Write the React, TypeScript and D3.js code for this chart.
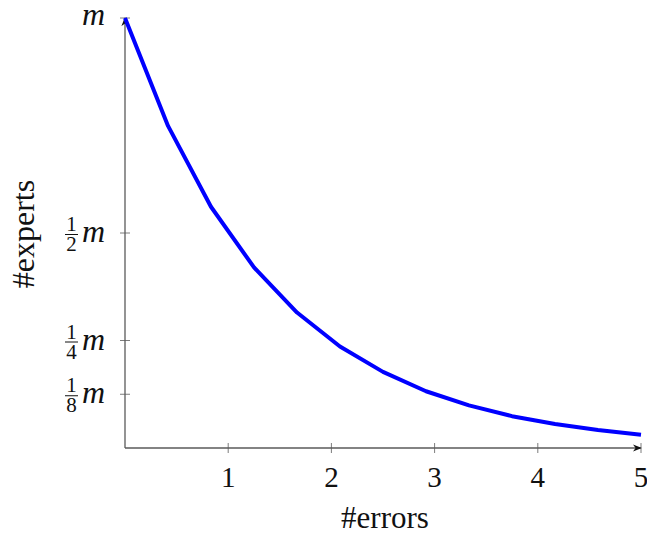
import React from "react";
import * as d3 from "d3";

// errors made vs. experts still alive (fraction of m)
const errorsX = [0, 0.417, 0.833, 1.25, 1.667, 2.083, 2.5, 2.917, 3.333, 3.75, 4.167, 4.583, 5];
const expertsY = [1, 0.749, 0.561, 0.42, 0.315, 0.236, 0.177, 0.132, 0.099, 0.074, 0.056, 0.042, 0.031];
const xTicks = [1, 2, 3, 4, 5];
const yTickVals = [1, 0.5, 0.25, 0.125];
const yTickDen = [0, 2, 4, 8];

const width = 647, height = 533;
const serif = "Liberation Serif";
const axisCol = "#5a5a5a";

const App = () => {
  const x = d3.scaleLinear().domain([0, 5]).range([125, 641]);
  const y = d3.scaleLinear().domain([0, 1]).range([448, 18]);
  const pts = errorsX.map((v, i) => [v, expertsY[i]] as [number, number]);
  const line = d3.line<[number, number]>().x(d => x(d[0])).y(d => y(d[1]));

  return (
    <svg width={width} height={height} style={{ position: "absolute", left: 0, top: 0 }}>
      <defs>
        <marker id="arr" viewBox="0 0 10 10" refX={9} refY={5} markerWidth={9} markerHeight={9}
          markerUnits="userSpaceOnUse" orient="auto">
          <path d="M0,1 L10,5 L0,9 L3,5 Z" fill="#111" />
        </marker>
      </defs>

      {/* axes */}
      <line x1={x(0)} x2={x(5)} y1={y(0)} y2={y(0)} stroke={axisCol} strokeWidth={1.3} markerEnd="url(#arr)" />
      <line x1={x(0)} x2={x(0)} y1={y(0)} y2={y(1)} stroke={axisCol} strokeWidth={1.3} markerEnd="url(#arr)" />

      {xTicks.map(t => (
        <g key={t}>
          <line x1={x(t)} x2={x(t)} y1={y(0) - 5} y2={y(0) + 5} stroke={axisCol} strokeWidth={0.8} />
          <text x={x(t)} y={y(0) + 39} textAnchor="middle" fontFamily={serif} fontSize={29} fill="#111">{t}</text>
        </g>
      ))}

      {yTickVals.map((t, i) => (
        <g key={t}>
          <line x1={x(0) - 5} x2={x(0) + 5} y1={y(t)} y2={y(t)} stroke={axisCol} strokeWidth={0.8} />
          <text x={x(0) - 20} y={y(t) + (yTickDen[i] ? 9 : 7)} textAnchor="end" fontFamily={serif}
            fontStyle="italic" fontSize={32} fill="#111">m</text>
          {yTickDen[i] > 0 && (
            <>
              <text x={x(0) - 53.5} y={y(t) - 2} textAnchor="middle" fontFamily={serif} fontSize={21} fill="#111">1</text>
              <line x1={x(0) - 60} x2={x(0) - 47} y1={y(t) + 1.5} y2={y(t) + 1.5} stroke="#111" strokeWidth={1} />
              <text x={x(0) - 53.5} y={y(t) + 18} textAnchor="middle" fontFamily={serif} fontSize={21} fill="#111">{yTickDen[i]}</text>
            </>
          )}
        </g>
      ))}

      <path d={line(pts) ?? ""} fill="none" stroke="#0000ff" strokeWidth={4} strokeLinejoin="round" />

      <text x={385} y={528} textAnchor="middle" fontFamily={serif} fontSize={31} fill="#111">#errors</text>
      <text transform="translate(34,234) rotate(-90)" textAnchor="middle" fontFamily={serif} fontSize={32} fill="#111">#experts</text>
    </svg>
  );
};

export default App;
